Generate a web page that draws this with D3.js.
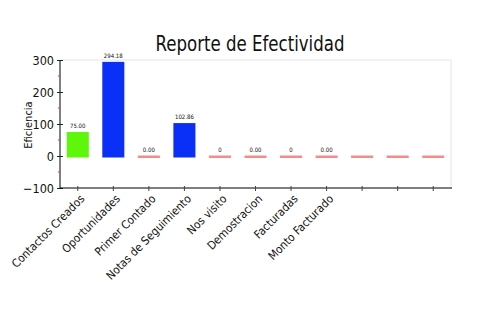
<!DOCTYPE html>
<html>
<head>
<meta charset="utf-8">
<script src="https://cdn.jsdelivr.net/npm/d3@7"></script>
<style>
  html, body { margin: 0; padding: 0; background: #fff; }
  svg { display: block; font-family: "DejaVu Sans", sans-serif; font-stretch: condensed; }
</style>
</head>
<body>
<svg id="chart" width="500" height="330"></svg>
<script>
// Categories along the x axis (the last three slots are unnamed)
const categories = ["Contactos Creados", "Oportunidades", "Primer Contado", "Notas de Seguimiento",
  "Nos visito", "Demostracion", "Facturadas", "Monto Facturado", "", " ", "  "];
// Efficiency value of each category
const values = [75.00, 294.18, 0, 102.86, 0, 0, 0, 0, 0, 0, 0];
// Text printed above each bar
const valueLabels = ["75.00", "294.18", "0.00", "102.86", "0", "0.00", "0", "0.00", "", "", ""];
// Bar fill per category
const barColors = ["#5ef70c", "#0a2ff7", "#f98a8a", "#0a2ff7", "#f98a8a", "#f98a8a",
  "#f98a8a", "#f98a8a", "#f98a8a", "#f98a8a", "#f98a8a"];
const yMajorTicks = [-100, 0, 100, 200, 300];
const yMinorTicks = [-50, 50, 150, 250];

const svg = d3.select("#chart");
const margin = { left: 60, right: 49, top: 60, bottom: 142 };
const W = 500, H = 330;
const x0 = margin.left, x1 = W - margin.right;
const y0 = margin.top, y1 = H - margin.bottom;

const x = d3.scaleBand().domain(categories).range([x0, x1]).paddingInner(0.38).paddingOuter(0.19);
const y = d3.scaleLinear().domain([-100, 300]).range([y1, y0]);

// Title
svg.append("text")
  .attr("x", 250).attr("y", 51)
  .attr("text-anchor", "middle")
  .attr("font-size", 21)
  .attr("textLength", 189)
  .attr("lengthAdjust", "spacingAndGlyphs")
  .attr("fill", "#111")
  .text("Reporte de Efectividad");

// Plot frame (top and right edges)
svg.append("path")
  .attr("d", `M${x0},${y0}H${x1}V${y1}`)
  .attr("fill", "none")
  .attr("stroke", "#e4e4e4");

// Bars; zero values show as a thin line at the baseline
svg.append("g").selectAll("rect")
  .data(values)
  .join("rect")
  .attr("x", (d, i) => x(categories[i]))
  .attr("width", x.bandwidth())
  .attr("y", d => d > 0 ? y(d) : y(0) - 0.5)
  .attr("height", d => d > 0 ? y(0) - y(d) + 1.5 : 2.5)
  .attr("fill", (d, i) => barColors[i]);

// Value labels
svg.append("g").selectAll("text")
  .data(values)
  .join("text")
  .attr("x", (d, i) => x(categories[i]) + x.bandwidth() / 2)
  .attr("y", d => y(d) - 4)
  .attr("text-anchor", "middle")
  .attr("font-size", 6)
  .attr("fill", "#111")
  .text((d, i) => valueLabels[i]);

// Left axis
const yAxis = svg.append("g")
  .attr("transform", `translate(${x0},0)`)
  .call(d3.axisLeft(y).tickValues(yMajorTicks).tickSize(3).tickPadding(3).tickFormat(d3.format("d")));
yAxis.attr("font-family", null);
yAxis.select(".domain").attr("stroke", "#000").attr("d", `M0,${y0}V${y1}`);
yAxis.selectAll(".tick line").attr("x2", 3).attr("x1", -3).attr("stroke", "#222");
yAxis.selectAll(".tick text").attr("font-size", 12.5).attr("fill", "#111");

// Minor ticks in red
svg.append("g").selectAll("line")
  .data(yMinorTicks)
  .join("line")
  .attr("x1", x0 - 2).attr("x2", x0)
  .attr("y1", d => y(d)).attr("y2", d => y(d))
  .attr("stroke", "#e33");

// Axis title
svg.append("text")
  .attr("transform", `translate(32,125) rotate(-90)`)
  .attr("text-anchor", "middle")
  .attr("font-size", 11)
  .attr("fill", "#111")
  .text("Eficiencia");

// Bottom axis
const xAxis = svg.append("g")
  .attr("transform", `translate(0,${y1})`)
  .call(d3.axisBottom(x).tickSize(3).tickPadding(2));
xAxis.attr("font-family", null);
xAxis.select(".domain").attr("stroke", "#000").attr("d", `M${x0},0H${x1 + 1}`);
xAxis.selectAll(".tick line").attr("y1", -2).attr("y2", 3).attr("stroke", "#444");
xAxis.selectAll(".tick text")
  .attr("font-size", 11.5)
  .attr("fill", "#111")
  .attr("text-anchor", "end")
  .attr("dy", 0)
  .attr("transform", "translate(4,8) rotate(-45)");
</script>
</body>
</html>
